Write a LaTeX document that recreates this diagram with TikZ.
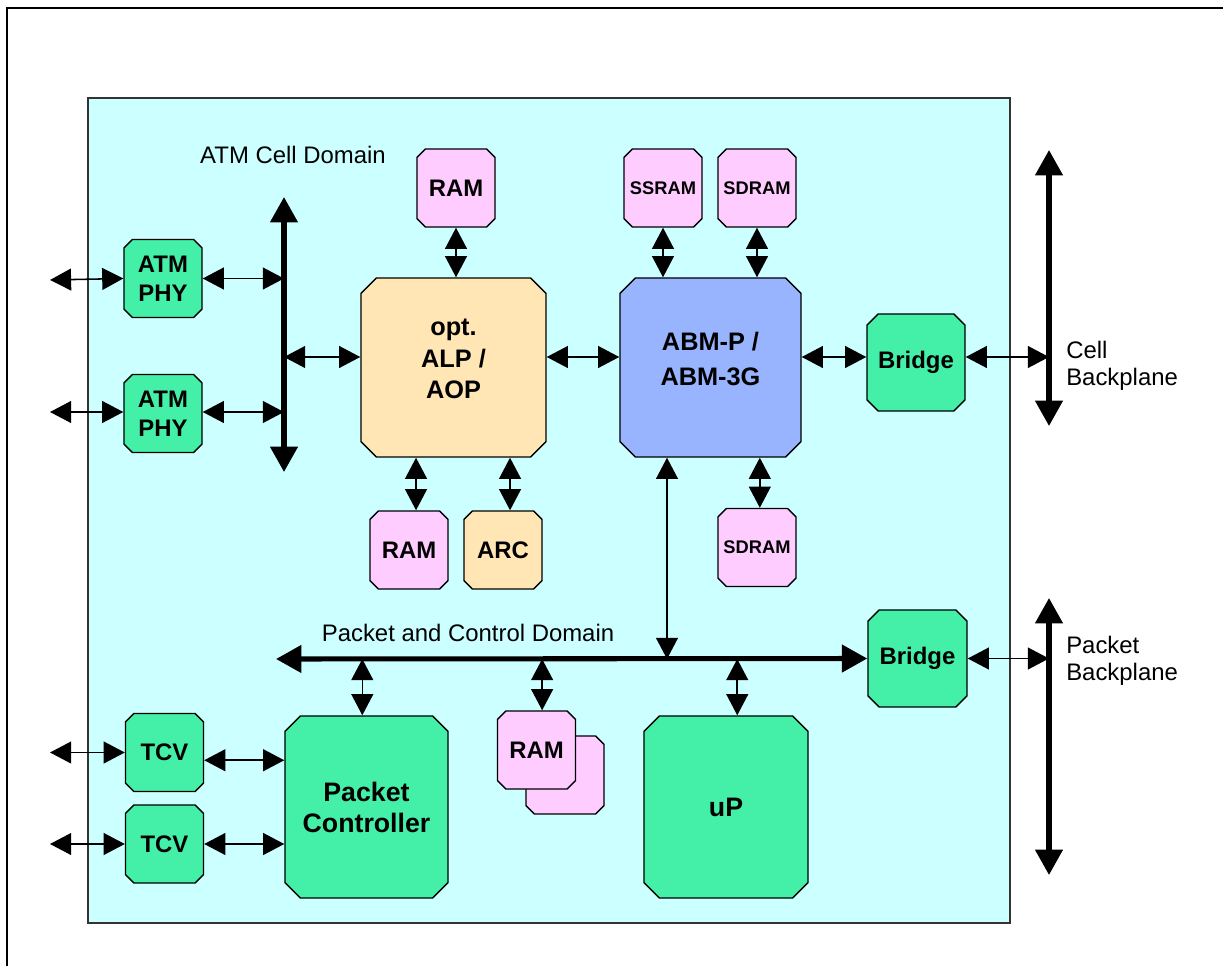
\documentclass[tikz,border=0pt]{standalone}
\usepackage{fontspec}
\setmainfont{Liberation Sans}
\usetikzlibrary{arrows.meta,shapes.misc}

\definecolor{panelcyan}{RGB}{204,255,255}
\definecolor{chipgreen}{RGB}{68,240,168}
\definecolor{rampink}{RGB}{255,204,255}
\definecolor{alporange}{RGB}{255,230,180}
\definecolor{abmblue}{RGB}{153,180,255}

\tikzset{
  block/.style={chamfered rectangle, chamfered rectangle xsep=3pt,
    chamfered rectangle ysep=3pt, draw=black, line width=1pt, inner sep=0pt,
    align=center, font=\bfseries\fontsize{17}{20.5}\selectfont},
  smallblock/.style={block, minimum width=1.95cm, minimum height=1.95cm},
  bigblock/.style={block, chamfered rectangle xsep=5.5pt, chamfered rectangle ysep=5.5pt},
  link/.style={{Triangle[length=15pt,width=15.5pt]}-{Triangle[length=15pt,width=15.5pt]},
    line width=1.1pt},
  bus/.style={{Triangle[length=18pt,width=19pt]}-{Triangle[length=18pt,width=19pt]},
    line width=3.6pt},
  domaintext/.style={font=\fontsize{17}{19}\selectfont, inner sep=0pt}
}

\begin{document}
\begin{tikzpicture}[x=0.025cm,y=-0.025cm]
        \useasboundingbox (0,0) rectangle (1223,966);

        % Frame and panel
        \draw[line width=0.8pt] (7,966) -- (7,8) -- (1223,8);
        \draw[fill=panelcyan, draw=black!80, line width=1.4pt] (88,98) rectangle (1010,923);

        % Defining the blocks
        \node[smallblock, fill=chipgreen] (phy1) at (163,278.5) {ATM\\PHY};
        \node[smallblock, fill=chipgreen] (phy2) at (163,413.5) {ATM\\PHY};
        \node[smallblock, fill=rampink] (ram1) at (456,188) {RAM};
        \node[smallblock, fill=rampink, font=\bfseries\fontsize{13}{15}\selectfont] (ssram) at (663,188) {SSRAM};
        \node[smallblock, fill=rampink, font=\bfseries\fontsize{13}{15}\selectfont] (sdram1) at (757,188) {SDRAM};
        \node[bigblock, fill=alporange, minimum width=4.625cm, minimum height=4.475cm,
              font=\bfseries\fontsize{18}{22.5}\selectfont, text depth=12pt] (alp) at (453.5,367.5) {opt.\\ALP /\\AOP};
        \node[bigblock, fill=abmblue, minimum width=4.525cm, minimum height=4.475cm,
              font=\bfseries\fontsize{18}{25}\selectfont, text depth=12pt] (abm) at (710.5,367.5) {ABM-P /\\ABM-3G};
        \node[block, fill=chipgreen, chamfered rectangle xsep=4pt, chamfered rectangle ysep=4pt,
              minimum width=2.45cm, minimum height=2.425cm] (bridge1) at (916,362.5) {Bridge};
        \node[smallblock, fill=rampink] (ram2) at (409,550) {RAM};
        \node[smallblock, fill=alporange] (arc) at (503,550) {ARC};
        \node[smallblock, fill=rampink, font=\bfseries\fontsize{13}{15}\selectfont] (sdram2) at (757,547.5) {SDRAM};
        \node[block, fill=chipgreen, chamfered rectangle xsep=4pt, chamfered rectangle ysep=4pt,
              minimum width=2.475cm, minimum height=2.425cm] (bridge2) at (917.5,658.5) {Bridge};
        \node[bigblock, fill=chipgreen, minimum width=4.075cm, minimum height=4.55cm,
              font=\bfseries\fontsize{19}{22}\selectfont] (pc) at (366.5,807) {Packet\\Controller};
        \node[smallblock, fill=rampink] (ram3b) at (565,775) {\phantom{RAM}};
        \node[smallblock, fill=rampink] (ram3) at (536.5,750) {RAM};
        \node[bigblock, fill=chipgreen, minimum width=4.1cm, minimum height=4.55cm,
              font=\bfseries\fontsize{19}{22}\selectfont] (up) at (726,807) {uP};
        \node[smallblock, fill=chipgreen] (tcv1) at (164.5,752.5) {TCV};
        \node[smallblock, fill=chipgreen] (tcv2) at (164.5,844) {TCV};

        % Domain and backplane texts
        \node[domaintext, anchor=base] (atmtext) at (293,163) {ATM Cell Domain};
        \node[domaintext, anchor=base] (pkttext) at (468,641) {Packet and Control Domain};
        \node[domaintext, anchor=west, align=left] (celltext) at (1066,366) {Cell\\Backplane};
        \node[domaintext, anchor=west, align=left] (pbtext) at (1066,661) {Packet\\Backplane};

        % Bus end points
        \coordinate (atmtop) at (284,197);
        \coordinate (atmbot) at (284,472);
        \coordinate (cellbustop) at (1049,150);
        \coordinate (cellbusbot) at (1049,426);
        \coordinate (pktbustop) at (1049,598);
        \coordinate (pktbusbot) at (1049,875);
        \coordinate (pbusleft) at (276,659);
        \coordinate (cellrow) at (0,357);
        \coordinate (abmtap) at (667,0);
        \coordinate (phy1in) at (50,280);
        \coordinate (phy2in) at (50,412);
        \coordinate (tcv1in) at (50,752.5);
        \coordinate (tcv2in) at (50,844);

        % Defining the buses
        \draw[bus] (atmbot) -- (atmtop);
        \draw[bus] (cellbusbot) -- (cellbustop);
        \draw[bus] (pktbusbot) -- (pktbustop);
        \draw[bus] (pbusleft) -- (bridge2.west);

        % Defining the links between the blocks
        \draw[link] (phy1in) -- (phy1.west);
        \draw[link] (phy2in) -- (phy2in -| phy2.west);
        \draw[link] (phy1.east) -- (phy1.east -| atmtop);
        \draw[link] (phy2in -| phy2.east) -- (phy2in -| atmtop);
        \draw[link] (atmtop |- cellrow) -- (alp.west |- cellrow);
        \draw[link] (alp.east |- cellrow) -- (abm.west |- cellrow);
        \draw[link] (abm.east |- cellrow) -- (bridge1.west |- cellrow);
        \draw[link] (bridge1.east |- cellrow) -- (cellbustop |- cellrow);
        \draw[link] (ram1.south) -- (ram1.south |- alp.north);
        \draw[link] (ssram.south) -- (ssram.south |- abm.north);
        \draw[link] (sdram1.south) -- (sdram1.south |- abm.north);
        \draw[link] ([xshift=5pt]ram2.north |- alp.south) -- ([xshift=5pt]ram2.north);
        \draw[link] ([xshift=5pt]arc.north |- alp.south) -- ([xshift=5pt]arc.north);
        \draw[link] ([xshift=2pt]sdram2.north |- abm.south) -- ([xshift=2pt]sdram2.north);
        \draw[link] (abmtap |- abm.south) -- (abmtap |- pbusleft);
        \draw[link] (bridge2.east) -- (bridge2.east -| pktbustop);
        \draw[link] ([xshift=-3pt]pc.north |- pbusleft) -- ([xshift=-3pt]pc.north);
        \draw[link] ([xshift=4pt]ram3.north |- pbusleft) -- ([xshift=4pt]ram3.north);
        \draw[link] ([xshift=8pt]up.north |- pbusleft) -- ([xshift=8pt]up.north);
        \draw[link] (tcv1in) -- (tcv1.west);
        \draw[link] (tcv2in) -- (tcv2.west);
        \draw[link] ([yshift=-5.5pt]tcv1.east) -- ([yshift=-5.5pt]tcv1.east -| pc.west);
        \draw[link] (tcv2.east) -- (tcv2.east -| pc.west);

\end{tikzpicture}
\end{document}
